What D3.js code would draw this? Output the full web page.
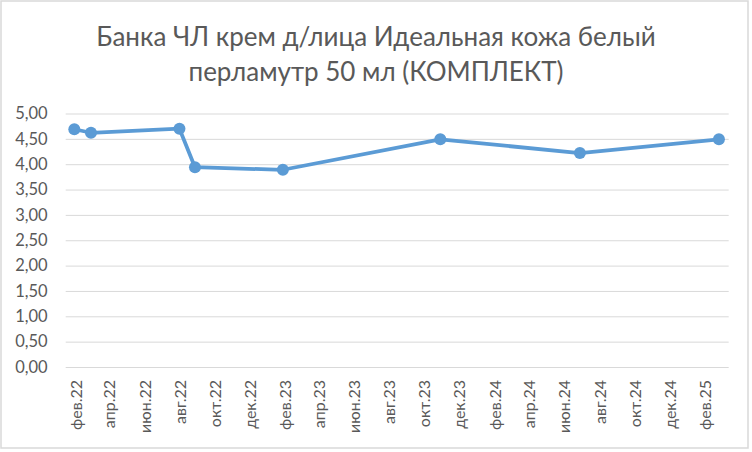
<!DOCTYPE html>
<html>
<head>
<meta charset="utf-8">
<script src="https://cdn.jsdelivr.net/npm/d3@7"></script>
<style>
  body { margin: 0; background: #fff; }
  text { font-family: Lato, "Open Sans", sans-serif; }
</style>
</head>
<body>
<div id="chart"></div>
<script>
// Chart size and plot box
const width = 752;
const height = 452;
const plot = {left: 65.7, right: 728.7, top: 113.5, bottom: 367};

// Data
const titleLines = ["Банка ЧЛ крем д/лица Идеальная кожа белый", "перламутр 50 мл (КОМПЛЕКТ)"];
const dates = ["2022-01-30", "2022-02-28", "2022-08-01", "2022-08-28", "2023-01-28", "2023-10-29", "2024-06-28", "2025-02-25"];
const prices = [4.69, 4.62, 4.70, 3.94, 3.89, 4.49, 4.22, 4.49];
const tickDates = ["2022-02-01", "2022-04-01", "2022-06-01", "2022-08-01", "2022-10-01", "2022-12-01",
                   "2023-02-01", "2023-04-01", "2023-06-01", "2023-08-01", "2023-10-01", "2023-12-01",
                   "2024-02-01", "2024-04-01", "2024-06-01", "2024-08-01", "2024-10-01", "2024-12-01",
                   "2025-02-01"];
const tickLabels = ["фев.22", "апр.22", "июн.22", "авг.22", "окт.22", "дек.22",
                    "фев.23", "апр.23", "июн.23", "авг.23", "окт.23", "дек.23",
                    "фев.24", "апр.24", "июн.24", "авг.24", "окт.24", "дек.24",
                    "фев.25"];
const yTicks = [0, 0.5, 1, 1.5, 2, 2.5, 3, 3.5, 4, 4.5, 5];

const parse = d3.utcParse("%Y-%m-%d");
const data = dates.map((d, i) => ({date: parse(d), value: prices[i]}));
const ticks = tickDates.map(parse);

const svg = d3.select("#chart")
  .append("svg")
  .attr("width", width)
  .attr("height", height);

// chart frame
svg.append("rect")
  .attr("x", 1).attr("y", 1)
  .attr("width", 747).attr("height", 447)
  .attr("fill", "#fff")
  .attr("stroke", "#d9d9d9")
  .attr("stroke-width", 1.5);

// title
svg.append("text")
  .attr("x", 376)
  .attr("text-anchor", "middle")
  .attr("fill", "#595959")
  .attr("font-size", "26px")
  .selectAll("tspan")
  .data(titleLines)
  .enter()
  .append("tspan")
    .attr("x", 376)
    .attr("y", (d, i) => 46 + i * 35)
    .text(d => d);

// scales
const xScale = d3.scaleUtc()
  .domain([parse("2022-01-15"), parse("2025-03-14")])
  .range([plot.left, plot.right]);

const yScale = d3.scaleLinear()
  .domain([0, 5])
  .range([plot.bottom, plot.top]);

const ruFormat = d3.formatLocale({decimal: ",", thousands: " ", grouping: [3], currency: ["", ""]}).format(".2f");

// y axis with gridlines
const yAxis = svg.append("g")
  .attr("transform", `translate(${plot.left}, 0)`)
  .call(d3.axisLeft(yScale)
          .tickValues(yTicks)
          .tickFormat(ruFormat)
          .tickSize(-(plot.right - plot.left))
          .tickPadding(18));
yAxis.select(".domain").remove();
yAxis.selectAll("line").attr("stroke", "#d9d9d9");
yAxis.selectAll("text")
  .attr("fill", "#595959")
  .attr("font-size", "16.5px")
  .attr("font-family", "Lato, sans-serif");

// x axis
const xAxis = svg.append("g")
  .attr("transform", `translate(0, ${plot.bottom})`)
  .call(d3.axisBottom(xScale)
          .tickValues(ticks)
          .tickFormat((d, i) => tickLabels[i])
          .tickSize(0));
xAxis.select(".domain").remove();
xAxis.selectAll("text")
  .attr("fill", "#595959")
  .attr("font-size", "16px")
  .attr("font-family", "Lato, sans-serif")
  .attr("text-anchor", "end")
  .attr("transform", "rotate(-90)")
  .attr("x", -13)
  .attr("y", 0)
  .attr("dy", "0.35em");

// line
const line = d3.line()
  .x(d => xScale(d.date))
  .y(d => yScale(d.value));

svg.append("path")
  .datum(data)
  .attr("fill", "none")
  .attr("stroke", "#5b9bd5")
  .attr("stroke-width", 3.75)
  .attr("stroke-linejoin", "round")
  .attr("d", line);

// markers
svg.selectAll(".dot")
  .data(data)
  .enter()
  .append("circle")
    .attr("class", "dot")
    .attr("cx", d => xScale(d.date))
    .attr("cy", d => yScale(d.value))
    .attr("r", 6)
    .attr("fill", "#5b9bd5");
</script>
</body>
</html>
